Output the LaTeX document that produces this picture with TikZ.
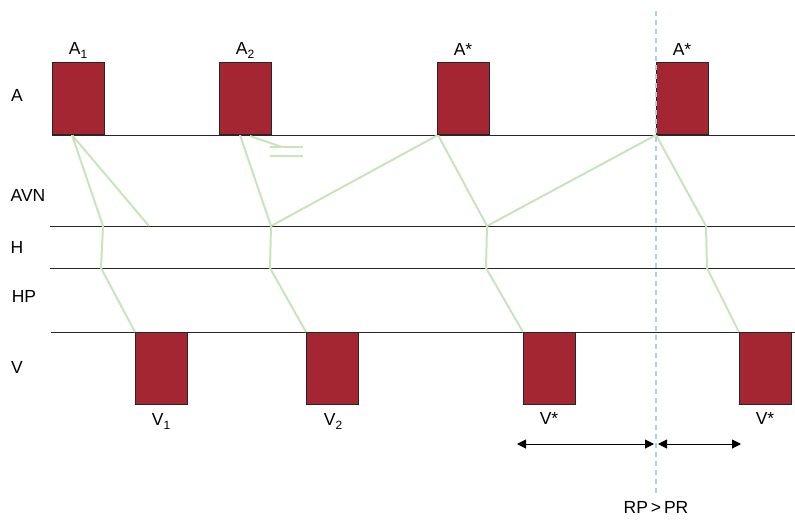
\documentclass[tikz,border=0pt]{standalone}
\usepackage{fontspec}
\setmainfont{Liberation Sans}
\usetikzlibrary{arrows.meta}
\definecolor{boxred}{RGB}{163,38,50}
\definecolor{cond}{RGB}{200,229,186}
\definecolor{dashblue}{RGB}{176,208,232}
\newcommand{\lowsub}[1]{\raisebox{-4pt}{\fontsize{12}{14}\selectfont #1}}
\begin{document}
\begin{tikzpicture}[x=1pt,y=-1pt,
  beat/.style={draw=black!85,fill=boxred,line width=0.8pt,minimum width=52pt,minimum height=72pt,inner sep=0pt,anchor=south west},
  vbeat/.style={beat,anchor=north west},
  lbl/.style={font=\fontsize{17.5}{20}\selectfont,inner sep=0pt},
  level/.style={draw=black!85,line width=0.8pt},
  cline/.style={draw=cond,line width=2pt,line join=round},
  dbl/.style={draw=black,line width=1pt,{Triangle[length=9pt,width=9pt]}-{Triangle[length=9pt,width=9pt]}}]
\useasboundingbox (0,0) rectangle (795,520);
% level lines
\coordinate (aL) at (52,135); \coordinate (aR) at (795,135);
\coordinate (hL) at (50,226); \coordinate (hR) at (795,226);
\coordinate (hpL) at (50,268); \coordinate (hpR) at (795,268);
\coordinate (vL) at (51,332); \coordinate (vR) at (795,332);
\draw[level] (aL) -- (aR);
\draw[level] (hL) -- (hR);
\draw[level] (hpL) -- (hpR);
\draw[level] (vL) -- (vR);
% left labels
\node[lbl] (tA) at (17,95) {A};
\node[lbl] (tAVN) at (28,195) {AVN};
\node[lbl] (tH) at (17,247) {H};
\node[lbl] (tHP) at (24,296) {HP};
\node[lbl] (tV) at (17,367) {V};
% conduction paths
\coordinate (a1) at (72,135); \coordinate (h1) at (103,226); \coordinate (p1) at (101,268); \coordinate (v1) at (135,332); \coordinate (b1) at (149,226);
\coordinate (a2) at (240,135); \coordinate (h2) at (271,226); \coordinate (p2) at (270,268); \coordinate (v2) at (306,332);
\coordinate (b2s) at (250,136); \coordinate (b2e) at (282,147);
\coordinate (e1s) at (270,147); \coordinate (e1e) at (303,147);
\coordinate (e2s) at (270,156); \coordinate (e2e) at (303,156);
\coordinate (a3) at (438,135); \coordinate (h3) at (487,226); \coordinate (p3) at (486,268); \coordinate (v3) at (523,332);
\coordinate (a4) at (656,135); \coordinate (h4) at (706,226); \coordinate (p4) at (707,268); \coordinate (v4) at (739,332);
\draw[cline] (a1) -- (h1) -- (p1) -- (v1);
\draw[cline] (a1) -- (b1);
\draw[cline] (a2) -- (h2) -- (p2) -- (v2);
\draw[cline] (b2s) -- (b2e);
\draw[cline,line width=1.8pt] (e1s) -- (e1e);
\draw[cline,line width=1.8pt] (e2s) -- (e2e);
\draw[cline] (a3) -- (h3) -- (p3) -- (v3);
\draw[cline] (a3) -- (h2);
\draw[cline] (a4) -- (h4) -- (p4) -- (v4);
\draw[cline] (a4) -- (h3);
% atrial beats
\node[beat] (A1) at (52,135) {};
\node[beat] (A2) at (219,135) {};
\node[beat] (A3) at (437,135) {};
\node[beat] (A4) at (656,135) {};
\node[lbl] (lA1) at (78,50) {A\lowsub{1}};
\node[lbl] (lA2) at (245,50) {A\lowsub{2}};
\node[lbl] (lA3) at (463,49) {A*};
\node[lbl] (lA4) at (682,49) {A*};
% ventricular beats
\node[vbeat] (V1) at (135,332) {};
\node[vbeat] (V2) at (306,332) {};
\node[vbeat] (V3) at (523,332) {};
\node[vbeat] (V4) at (739,332) {};
\node[lbl] (lV1) at (161,421) {V\lowsub{1}};
\node[lbl] (lV2) at (333,421) {V\lowsub{2}};
\node[lbl] (lV3) at (549,418) {V*};
\node[lbl] (lV4) at (765,418) {V*};
% dashed marker
\coordinate (dT) at (656,11); \coordinate (dB) at (656,494);
\draw[dashblue,line width=2pt,dash pattern=on 5pt off 4pt] (dT) -- (dB);
% interval arrows
\coordinate (r1) at (517,444); \coordinate (r2) at (654,444);
\coordinate (r3) at (658,444); \coordinate (r4) at (741,444);
\draw[dbl] (r1) -- (r2);
\draw[dbl] (r3) -- (r4);
\node[lbl] (lRP) at (656,507) {RP\,>\,PR};
\end{tikzpicture}
\end{document}
